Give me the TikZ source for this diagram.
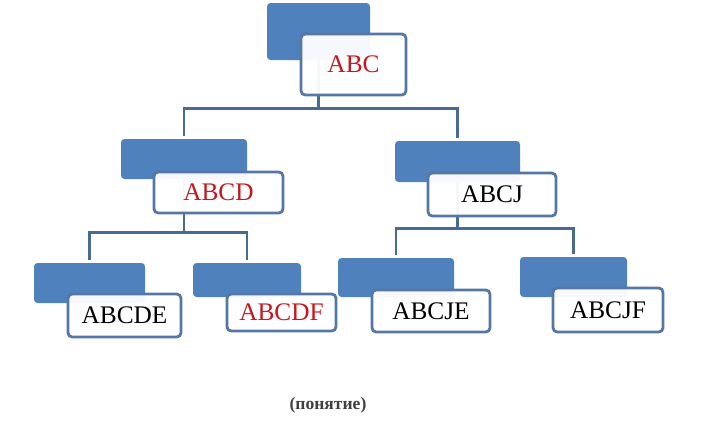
\documentclass[tikz,border=0pt]{standalone}
\usepackage{fontspec}
\setmainfont{Liberation Serif}
\usetikzlibrary{backgrounds}
\definecolor{conceptblue}{HTML}{4F81BD}
\definecolor{conceptline}{HTML}{5577A6}
\definecolor{linkline}{HTML}{4A6A96}
\definecolor{conceptred}{HTML}{C8161D}
\newcommand{\pix}{0.025cm}

\begin{document}
\begin{tikzpicture}[x=0.025cm,y=-0.025cm,
      back/.style ={fill=conceptblue,rounded corners=2.5pt,inner sep=0pt},
      conc/.style ={draw=conceptline,line width=2pt,rounded corners=3pt,fill=white,fill opacity=0.95,text opacity=1,inner sep=0pt,font=\fontsize{18}{20}\selectfont},
      hot/.style  ={text=conceptred},
      link/.style ={draw=linkline,line width=1.9pt,shorten >=0.08cm}]
      \useasboundingbox (0,0) rectangle (717,424);

      % Root
      \node[back,minimum width=103*\pix,minimum height=57*\pix] (abcB) at (318.5,31.5) {};
      \node[conc,hot,minimum width=105*\pix,minimum height=61*\pix] (abc) at (353.5,64.5) {ABC};

      % Second level
      \node[back,minimum width=126*\pix,minimum height=40*\pix] (abcdB) at (184,159) {};
      \node[conc,hot,minimum width=129*\pix,minimum height=41*\pix] (abcd) at (218.5,192.5) {ABCD};
      \node[back,minimum width=125*\pix,minimum height=41*\pix] (abcjB) at (457.5,161.5) {};
      \node[conc,minimum width=128*\pix,minimum height=43*\pix] (abcj) at (492,194.5) {ABCJ};

      % Leaves
      \node[back,minimum width=111*\pix,minimum height=40*\pix] (abcdeB) at (89.5,283) {};
      \node[conc,minimum width=113*\pix,minimum height=43*\pix] (abcde) at (124.5,315.5) {ABCDE};
      \node[back,minimum width=108*\pix,minimum height=34*\pix] (abcdfB) at (247,280) {};
      \node[conc,hot,minimum width=109*\pix,minimum height=37*\pix] (abcdf) at (281.5,312.5) {ABCDF};
      \node[back,minimum width=116*\pix,minimum height=39*\pix] (abcjeB) at (396,277.5) {};
      \node[conc,minimum width=118*\pix,minimum height=42*\pix] (abcje) at (431,311) {ABCJE};
      \node[back,minimum width=107*\pix,minimum height=40*\pix] (abcjfB) at (573.5,277) {};
      \node[conc,minimum width=110*\pix,minimum height=44*\pix] (abcjf) at (608,310) {ABCJF};

      % Forks under each parent
      \path (abcB |- abc.south) ++(0,12) coordinate (abcfork);
      \path (abcdB |- abcd.south) ++(0,18) coordinate (abcdfork);
      \path (abcjB |- abcj.south) ++(0,11) coordinate (abcjfork);

      % Connectors behind the boxes
      \begin{scope}[on background layer]
        \draw[link] (abcB.center) -- (abcfork) -| (abcdB.north);
        \draw[link] (abcB.center) -- (abcfork) -| (abcjB.north);
        \draw[link] (abcdB.center) -- (abcdfork) -| (abcdeB.north);
        \draw[link] (abcdB.center) -- (abcdfork) -| (abcdfB.north);
        \draw[link] (abcjB.center) -- (abcjfork) -| (abcjeB.north);
        \draw[link] (abcjB.center) -- (abcjfork) -| (abcjfB.north);
      \end{scope}

      \node[font=\bfseries\fontsize{12.5}{14}\selectfont,text=black!75] (caption) at (328,405) {(понятие)};
  \end{tikzpicture}
\end{document}
